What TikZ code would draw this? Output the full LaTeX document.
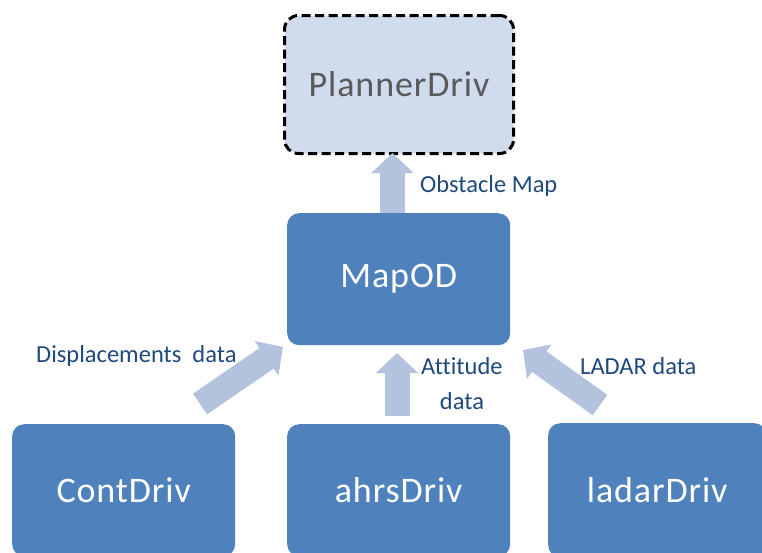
\documentclass[tikz,border=0pt]{standalone}
\usepackage{fontspec}
\setmainfont{Carlito}
\usetikzlibrary{arrows.meta}
\definecolor{boxblue}{HTML}{4F81BD}
\definecolor{paleblue}{HTML}{D0DCED}
\definecolor{arrowblue}{HTML}{B3C3DE}
\definecolor{labelblue}{HTML}{1F497D}
\definecolor{greytext}{HTML}{595959}
\newfontfamily\boxfont[LetterSpace=2.5]{Carlito}
\newfontfamily\labelfont[Ligatures={NoCommon}]{Carlito}
\tikzset{
  module/.style={fill=boxblue, rounded corners=12pt, text=white, font=\boxfont\fontsize{36}{40}\selectfont,
    inner sep=0pt, anchor=north west},
  planner/.style={fill=paleblue, draw=black, line width=3pt, dash pattern=on 9pt off 4.5pt,
    rounded corners=14pt, text=greytext, font=\boxfont\fontsize{36}{40}\selectfont, inner sep=0pt, anchor=north west},
  flow/.style={draw=arrowblue, line width=25pt,
    -{Triangle[width=41pt,length=20pt]}},
  flowlabel/.style={text=labelblue, font=\labelfont\fontsize{24.5}{35}\selectfont, inner sep=0pt}
}
\begin{document}
\begin{tikzpicture}[x=1pt,y=-1pt]
\useasboundingbox (0,0) rectangle (762,552);
% modules
\node[planner, minimum width=229pt, minimum height=138pt] (planner) at (283,14) {PlannerDriv};
\node[module, minimum width=223pt, minimum height=132pt] (mapod) at (287,213) {MapOD};
\node[module, minimum width=223pt, minimum height=132pt] (cont) at (12,424) {ContDriv};
\node[module, minimum width=223pt, minimum height=132pt] (ahrs) at (287,424) {ahrsDriv};
\node[module, minimum width=218pt, minimum height=134pt] (ladar) at (548,423) {ladarDriv};
% flow arrow end points
\coordinate (obsTail) at (392.5,213);
\coordinate (obsTip) at (392.5,153);
\coordinate (attTail) at (397,416);
\coordinate (attTip) at (397,353);
\coordinate (dispTail) at (200,404);
\coordinate (dispTip) at (283,347);
\coordinate (ladTail) at (600,405);
\coordinate (ladTip) at (523,350);
% data flows
\draw[flow] (obsTail) -- (obsTip);
\draw[flow] (attTail) -- (attTip);
\draw[flow] (dispTail) -- (dispTip);
\draw[flow] (ladTail) -- (ladTip);
% flow labels
\node[flowlabel, anchor=base west] (obsLabel) at (420,192) {Obstacle Map};
\node[flowlabel, anchor=base west] (dispLabel) at (36,362) {Displacements\ \ data};
\node[flowlabel, anchor=base west] (attLabel) at (421,374) {Attitude};
\node[flowlabel, anchor=base] (attLabel2) at (462,409) {data};
\node[flowlabel, anchor=base west] (ladLabel) at (580,374) {LADAR data};
\end{tikzpicture}
\end{document}
